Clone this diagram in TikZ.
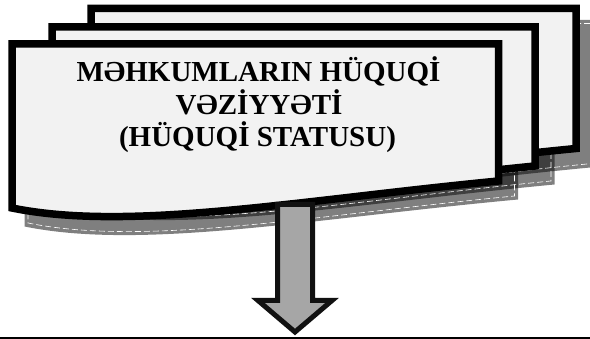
\documentclass[tikz,border=0pt]{standalone}
\usepackage{fontspec}
\setmainfont{Liberation Serif}
\definecolor{docfill}{HTML}{F2F2F2}
\definecolor{arrfill}{HTML}{A6A6A6}
\definecolor{arrline}{HTML}{111111}
\newcommand\docpath[4]{(#1,#2) -- (#3,#2) -- (#3,#4) .. controls (#1+288,#4+19) and (#1+118,#4+51) .. (#1,#4+27) -- cycle}
\tikzset{
  docshadow/.style={fill=black, fill opacity=0.5, draw=none},
  shadowline/.style={draw=white, line width=0.6pt, dash pattern=on 6pt off 3pt},
  docbox/.style={fill=docfill, draw=black, line width=7.5pt, line join=miter},
  lbl/.style={anchor=base, inner sep=0pt, font=\fontsize{29}{32}\selectfont\bfseries},
  bigarrow/.style={fill=arrfill, draw=arrline, line width=5pt, line join=miter}
}
\begin{document}
\begin{tikzpicture}[x=1pt, y=-1pt]
\useasboundingbox (0,0) rectangle (590,339);
% shadows
\path[docshadow] \docpath{91+16-3.5}{8.5+15-3.5}{576+16+3.5}{148.5+15+3.5};
\path[docshadow] \docpath{52+16-3.5}{27+15-3.5}{535+16+3.5}{166+15+3.5};
\path[docshadow] \docpath{12+16-3.5}{44+15-3.5}{498.5+16+3.5}{181+15+3.5};
\path[shadowline] \docpath{91+16}{8.5+15}{576+16}{148.5+15};
\path[shadowline] \docpath{52+16}{27+15}{535+16}{166+15};
\path[shadowline] \docpath{12+16}{44+15}{498.5+16}{181+15};
% documents
\path[docbox] \docpath{91}{8.5}{576}{148.5};
\path[docbox] \docpath{52}{27}{535}{166};
\path[docbox] \docpath{12}{44}{498.5}{181};
% text
\node[lbl] (t1) at (258.5,82) {MƏHKUMLARIN HÜQUQİ};
\node[lbl] (t2) at (259,114.5) {VƏZİYYƏTİ};
\node[lbl] (t3) at (257.5,147) {(HÜQUQİ STATUSU)};
% arrow
\path[bigarrow] (277.5,204.5) -- (312.5,204.5) -- (312.5,300.5) -- (332,300.5)
  -- (295,332) -- (258,300.5) -- (277.5,300.5) -- cycle;
% bottom rule
\coordinate (l0) at (0,338);
\coordinate (l1) at (590,338);
\draw[line width=2pt] (l0) -- (l1);
\end{tikzpicture}
\end{document}
